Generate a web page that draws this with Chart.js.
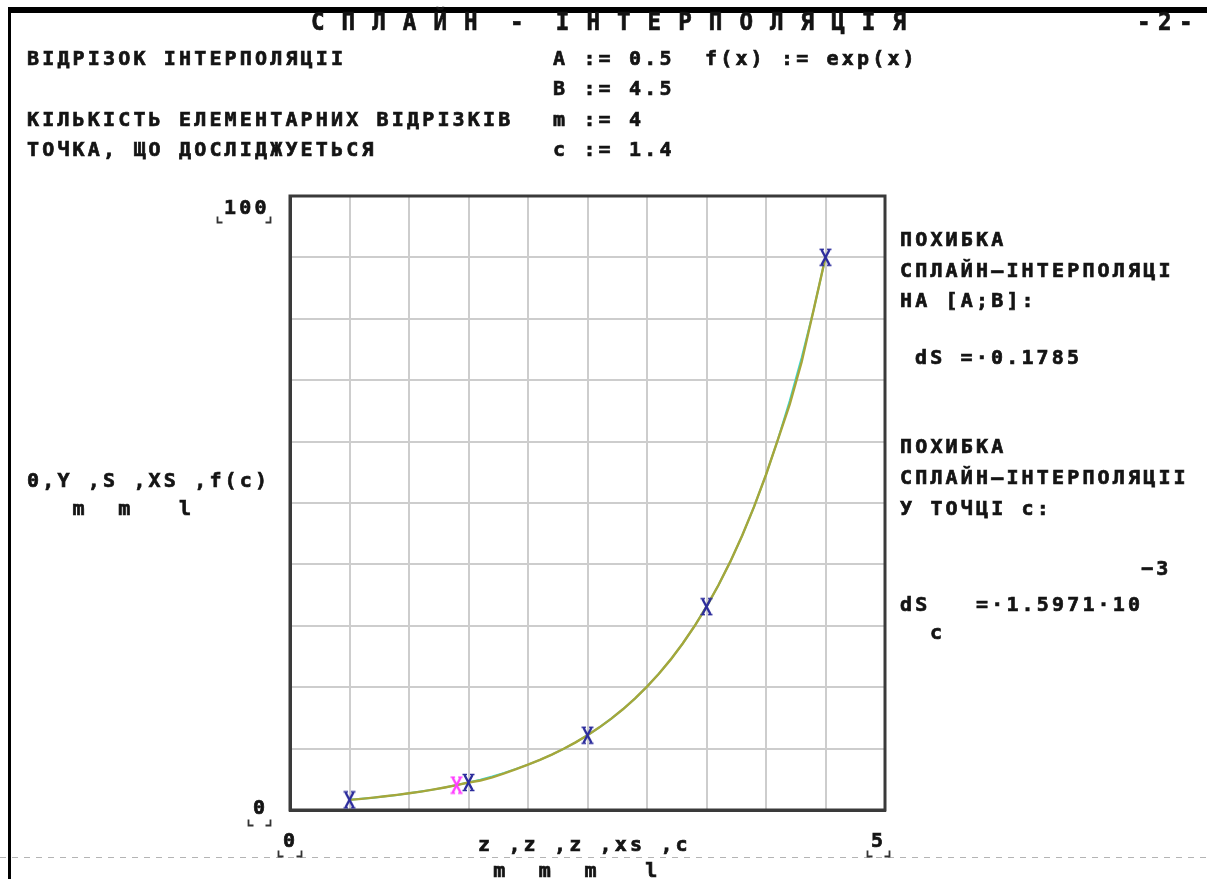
<!DOCTYPE html>
<html>
<head>
<meta charset="utf-8">
<script src="https://cdn.jsdelivr.net/npm/chart.js@4/dist/chart.umd.min.js"></script>
<style>
  html, body { margin: 0; padding: 0; background: #fff; }
  #wrap { width: 1207px; height: 879px; position: relative; }
</style>
</head>
<body>
<div id="wrap"><canvas id="splineChart"></canvas></div>
<script>
// sample points of the curves (z_m)
const curveX = [0.5, 0.6, 0.7, 0.8, 0.9, 1.0, 1.1, 1.2, 1.3, 1.4, 1.5, 1.6, 1.7, 1.8, 1.9, 2.0,
  2.1, 2.2, 2.3, 2.4, 2.5, 2.6, 2.7, 2.8, 2.9, 3.0, 3.1, 3.2, 3.3, 3.4, 3.5, 3.6, 3.7, 3.8,
  3.9, 4.0, 4.1, 4.2, 4.3, 4.4, 4.5];
// exact function values Y_m
const exactY = [1.65, 1.82, 2.01, 2.23, 2.46, 2.72, 3.00, 3.32, 3.67, 4.06, 4.48, 4.95, 5.47,
  6.05, 6.69, 7.39, 8.17, 9.03, 9.97, 11.02, 12.18, 13.46, 14.88, 16.44, 18.17, 20.09, 22.20,
  24.53, 27.11, 29.96, 33.12, 36.60, 40.45, 44.70, 49.40, 54.60, 60.34, 66.69, 73.70, 81.45, 90.02];
// spline values S_m
const splineY = [1.65, 1.82, 2.01, 2.23, 2.46, 2.72, 3.00, 3.32, 3.67, 4.06, 4.48, 4.80, 5.30,
  5.95, 6.65, 7.39, 8.17, 9.03, 9.97, 11.02, 12.18, 13.46, 14.88, 16.44, 18.17, 20.09, 22.20,
  24.53, 27.11, 29.96, 33.12, 36.60, 40.45, 44.70, 49.40, 54.60, 60.34, 66.10, 73.00, 81.45, 90.02];
// interpolation knots XS_l
const knotX = [0.5, 1.5, 2.5, 3.5, 4.5];
const knotY = [1.65, 4.48, 12.18, 33.12, 90.02];
// investigated point c and f(c)
const pointX = [1.4];
const pointY = [4.06];

const FONT = "'DejaVu Sans Mono', 'Liberation Mono', monospace";
const INK = '#141414';

function toXY(xs, ys) {
  return xs.map((x, i) => ({ x: x, y: ys[i] }));
}

// "X"-shaped marker like the plot symbol
function makeCross(color) {
  const c = document.createElement('canvas');
  c.width = 13; c.height = 19;
  const g = c.getContext('2d');
  g.strokeStyle = color;
  g.lineWidth = 2.4;
  g.lineCap = 'butt';
  g.beginPath();
  g.moveTo(2.5, 2); g.lineTo(10.5, 17);
  g.moveTo(10.5, 2); g.lineTo(2.5, 17);
  g.stroke();
  g.lineWidth = 1.6;
  g.beginPath();
  g.moveTo(0.5, 1.5); g.lineTo(5, 1.5);
  g.moveTo(8, 1.5); g.lineTo(12.5, 1.5);
  g.moveTo(0.5, 17.5); g.lineTo(5, 17.5);
  g.moveTo(8, 17.5); g.lineTo(12.5, 17.5);
  g.stroke();
  return c;
}

// fixed-pitch text, one glyph per cell
function mono(ctx, str, x, y, pitch, size, sx) {
  ctx.save();
  ctx.font = 'bold ' + size + 'px ' + FONT;
  ctx.fillStyle = INK;
  ctx.strokeStyle = INK;
  ctx.lineWidth = 0.7;
  ctx.textBaseline = 'middle';
  ctx.textAlign = 'left';
  [...str].forEach((ch, i) => {
    if (ch === ' ') return;
    ctx.save();
    ctx.translate(x + i * pitch, y);
    ctx.scale(sx, 1);
    ctx.fillText(ch, 0, 0);
    ctx.strokeText(ch, 0, 0);
    ctx.restore();
  });
  ctx.restore();
}

function bracket(ctx, x1, x2, y) {
  ctx.save();
  ctx.strokeStyle = '#333';
  ctx.lineWidth = 1.8;
  ctx.beginPath();
  ctx.moveTo(x1, y - 6); ctx.lineTo(x1, y); ctx.lineTo(x1 + 5, y);
  ctx.moveTo(x2 - 5, y); ctx.lineTo(x2, y); ctx.lineTo(x2, y - 6);
  ctx.stroke();
  ctx.restore();
}

const labelRows = [
  ['ВІДРІЗОК ІНТЕРПОЛЯЦІІ', 27, 60],
  ['A := 0.5  f(x) := exp(x)', 553, 60],
  ['B := 4.5', 553, 90],
  ['КІЛЬКІСТЬ ЕЛЕМЕНТАРНИХ ВІДРІЗКІВ', 27, 121],
  ['m := 4', 553, 121],
  ['ТОЧКА, ЩО ДОСЛІДЖУЕТЬСЯ', 27, 151],
  ['c := 1.4', 553, 151],
  ['ПОХИБКА', 900, 241],
  ['СПЛАЙН–ІНТЕРПОЛЯЦІ', 900, 272],
  ['НА [A;B]:', 900, 302],
  ['dS =·0.1785', 915, 359],
  ['ПОХИБКА', 900, 448],
  ['СПЛАЙН–ІНТЕРПОЛЯЦІІ', 900, 479],
  ['У ТОЧЦІ c:', 900, 510],
  ['−3', 1141, 570],
  ['dS   =·1.5971·10', 900, 606],
  ['c', 930, 634],
  ['0,Y ,S ,XS ,f(c)', 27, 482],
  ['   m  m   l', 27, 510],
  ['z ,z ,z ,xs ,c', 478, 846],
  [' m  m  m   l', 478, 872],
  ['100', 224, 209],
  ['0', 253, 809],
  ['0', 283, 842],
  ['5', 871, 842]
];

const sheetPlugin = {
  id: 'sheet',
  beforeDraw(chart) {
    const ctx = chart.ctx;
    ctx.save();
    ctx.fillStyle = '#fff';
    ctx.fillRect(0, 0, chart.width, chart.height);
    // page frame
    ctx.fillStyle = '#000';
    ctx.fillRect(8, 7, chart.width - 8, 6);
    ctx.fillRect(8, 7, 3, chart.height - 7);
    // page break line
    ctx.strokeStyle = '#b4b4b4';
    ctx.lineWidth = 1;
    ctx.setLineDash([6, 6]);
    ctx.beginPath();
    ctx.moveTo(0, 857.5);
    ctx.lineTo(chart.width, 857.5);
    ctx.stroke();
    ctx.restore();
  },
  beforeDatasetsDraw(chart) {
    const a = chart.chartArea;
    const ctx = chart.ctx;
    ctx.save();
    ctx.strokeStyle = '#3a3a3a';
    ctx.lineWidth = 3;
    ctx.strokeRect(a.left, a.top, a.right - a.left, a.bottom - a.top);
    ctx.restore();
  },
  afterDraw(chart) {
    const ctx = chart.ctx;
    mono(ctx, 'С П Л А Й Н  -  І Н Т Е Р П О Л Я Ц І Я', 311, 23, 15.3, 25, 0.9);
    mono(ctx, '- 2 -', 1137, 23, 10.5, 25, 0.9);
    labelRows.forEach(r => mono(ctx, r[0], r[1], r[2], 15.2, 20, 1.0));
    bracket(ctx, 217.5, 270.5, 222.5);
    bracket(ctx, 248.5, 270.5, 825.5);
    bracket(ctx, 278.5, 301.5, 856.5);
    bracket(ctx, 867.5, 889.5, 856.5);
  }
};

new Chart(document.getElementById('splineChart'), {
  type: 'line',
  data: {
    datasets: [
      {
        label: 'f(c)',
        data: toXY(pointX, pointY),
        showLine: false,
        pointStyle: makeCross('#ff3cff'),
        order: 0
      },
      {
        label: 'XS',
        data: toXY(knotX, knotY),
        showLine: false,
        pointStyle: makeCross('#2c2c9c'),
        order: 1
      },
      {
        label: 'S',
        data: toXY(curveX, splineY),
        borderColor: '#a6a63a',
        borderWidth: 2.4,
        pointRadius: 0,
        tension: 0,
        order: 2
      },
      {
        label: 'Y',
        data: toXY(curveX, exactY),
        borderColor: '#3ad8d0',
        borderWidth: 2,
        pointRadius: 0,
        tension: 0,
        order: 3
      }
    ]
  },
  options: {
    responsive: true,
    maintainAspectRatio: false,
    animation: false,
    layout: { padding: { left: 290, top: 196, right: 322, bottom: 69 } },
    plugins: { legend: { display: false }, tooltip: { enabled: false } },
    scales: {
      x: {
        type: 'linear', min: 0, max: 5,
        ticks: { stepSize: 0.5, display: false },
        grid: { color: '#cdcdcd', lineWidth: 2, drawTicks: false },
        border: { color: '#3a3a3a', width: 3 }
      },
      y: {
        type: 'linear', min: 0, max: 100,
        ticks: { stepSize: 10, display: false },
        grid: { color: '#cdcdcd', lineWidth: 2, drawTicks: false },
        border: { color: '#3a3a3a', width: 3 }
      }
    }
  },
  plugins: [sheetPlugin]
});
</script>
</body>
</html>
